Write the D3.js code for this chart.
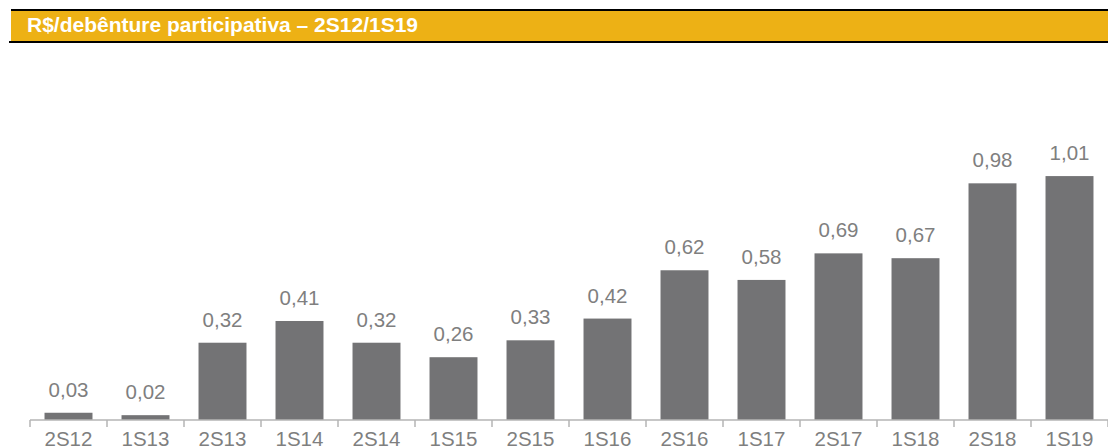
<!DOCTYPE html>
<html>
<head>
<meta charset="utf-8">
<script src="https://cdn.jsdelivr.net/npm/d3@7"></script>
<style>
    body { margin: 0; background: #fff; }
    svg { display: block; font-family: Arial, "Liberation Sans", sans-serif; }
</style>
</head>
<body>
<div id="chart"></div>
<script>
// data
const categories = ["2S12", "1S13", "2S13", "1S14", "2S14", "1S15", "2S15",
    "1S16", "2S16", "1S17", "2S17", "1S18", "2S18", "1S19"];
const values = [0.03, 0.02, 0.32, 0.41, 0.32, 0.26, 0.33,
    0.42, 0.62, 0.58, 0.69, 0.67, 0.98, 1.01];
const headerText = "R$/debênture participativa – 2S12/1S19";

const W = 1108, H = 447;
const baseY = 420;

const ptBR = d3.formatLocale({ decimal: ",", thousands: ".", grouping: [3], currency: ["R$", ""] });
const fmt = ptBR.format(".2f");

const svg = d3.select("#chart").append("svg")
    .attr("width", W)
    .attr("height", H);

// header band
svg.append("rect").attr("x", 11).attr("y", 9).attr("width", W - 11).attr("height", 2).attr("fill", "#000");
svg.append("rect").attr("x", 11).attr("y", 11).attr("width", W - 11).attr("height", 30).attr("fill", "#edb115");
svg.append("rect").attr("x", 9).attr("y", 41).attr("width", W - 9).attr("height", 2).attr("fill", "#000");
svg.append("text")
    .attr("x", 27).attr("y", 32)
    .attr("fill", "#fff")
    .attr("font-weight", "bold")
    .attr("font-size", "21px")
    .text(headerText);

// scales
const x = d3.scaleBand()
    .domain(categories)
    .range([30, 1108])
    .paddingInner(0.377)
    .paddingOuter(0.1885);

const y = d3.scaleLinear()
    .domain([0, 1])
    .range([baseY, baseY - 241.5]);

const data = categories.map((c, i) => ({ cat: c, v: values[i] }));

// bars
svg.append("g").selectAll("rect")
    .data(data)
    .join("rect")
    .attr("x", d => x(d.cat))
    .attr("y", d => y(d.v))
    .attr("width", x.bandwidth())
    .attr("height", d => y(0) - y(d.v))
    .attr("fill", "#737375");

// value labels
svg.append("g").selectAll("text")
    .data(data)
    .join("text")
    .attr("x", d => x(d.cat) + x.bandwidth() / 2)
    .attr("y", d => y(d.v) - 16)
    .attr("text-anchor", "middle")
    .attr("font-size", "20.5px")
    .attr("fill", "#7f7f7f")
    .text(d => fmt(d.v));

// axis line + separators between categories
const axis = svg.append("g").attr("stroke", "#b4b4b4").attr("stroke-width", 1.5);
const step = x.step();
const x0 = x(categories[0]) - x.paddingOuter() * step;
axis.append("line")
    .attr("x1", x0).attr("x2", W)
    .attr("y1", baseY).attr("y2", baseY);
axis.selectAll(".sep")
    .data(d3.range(categories.length + 1))
    .join("line")
    .attr("class", "sep")
    .attr("x1", i => x0 + i * step).attr("x2", i => x0 + i * step)
    .attr("y1", baseY).attr("y2", baseY + 7);

// category labels
svg.append("g").selectAll("text")
    .data(categories)
    .join("text")
    .attr("x", d => x(d) + x.bandwidth() / 2)
    .attr("y", 446)
    .attr("text-anchor", "middle")
    .attr("font-size", "20.5px")
    .attr("fill", "#7f7f7f")
    .text(d => d);
</script>
</body>
</html>
